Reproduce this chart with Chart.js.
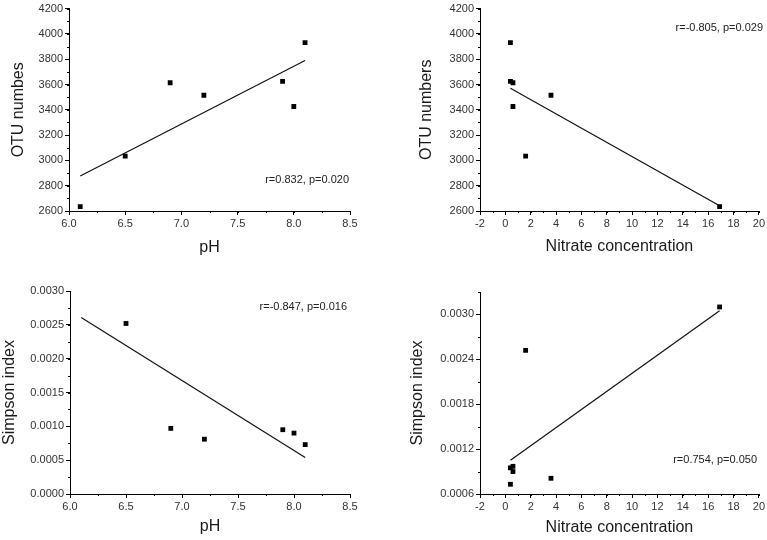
<!DOCTYPE html>
<html lang="en">
<head>
  <meta charset="UTF-8" />
  <title>OTU numbers and Simpson index vs pH and nitrate</title>
  <script src="https://cdn.jsdelivr.net/npm/chart.js"></script>
  <style>
    body { margin: 0; background: #fff; width: 767px; height: 540px; position: relative; overflow: hidden; }
    canvas { position: absolute; }
  </style>
</head>
<body>
  <canvas id="c1" width="384" height="270" style="left:0;top:0"></canvas>
  <canvas id="c2" width="383" height="270" style="left:384px;top:0"></canvas>
  <canvas id="c3" width="384" height="270" style="left:0;top:270px"></canvas>
  <canvas id="c4" width="383" height="270" style="left:384px;top:270px"></canvas>

  <script>
    // samples (same order in every array)
    const phValues = [6.1, 6.5, 6.9, 7.2, 7.9, 8.0, 8.1];
    const nitrateValues = [16.9, 1.6, 0.6, 3.6, 0.4, 0.6, 0.4];
    const otuNumbers = [2635, 3034, 3614, 3515, 3625, 3426, 3931];
    const simpsonIndex = [0.00310, 0.00252, 0.00097, 0.00081, 0.00095, 0.00090, 0.00073];

    // regression line end points
    const fitOtuPhX = [6.1, 8.1], fitOtuPhY = [2877, 3790];
    const fitOtuNitX = [0.4, 16.9], fitOtuNitY = [3571, 2642];
    const fitSimPhX = [6.1, 8.1], fitSimPhY = [0.00261, 0.00054];
    const fitSimNitX = [0.4, 16.9], fitSimNitY = [0.00105, 0.00305];

    const FONT = '"Liberation Sans", Arial, sans-serif';

    // short minor ticks between the major ones
    const minorTicks = {
      id: 'minorTicks',
      afterDraw(chart, args, opts) {
        const ctx = chart.ctx;
        ctx.save();
        ctx.strokeStyle = '#000';
        ctx.lineWidth = 1;
        ['x', 'y'].forEach(id => {
          const s = chart.scales[id], step = opts[id];
          if (!step) return;
          const n = Math.round((s.max - s.min) / step);
          for (let i = 0; i <= n; i++) {
            const p = Math.round(s.getPixelForValue(s.min + i * step)) + 0.5;
            ctx.beginPath();
            if (id === 'x') { ctx.moveTo(p, s.top); ctx.lineTo(p, s.top + 2); }
            else { ctx.moveTo(s.right, p); ctx.lineTo(s.right - 2, p); }
            ctx.stroke();
          }
        });
        ctx.restore();
      }
    };

    const note = {
      id: 'note',
      afterDraw(chart, args, opts) {
        if (!opts.text) return;
        const ctx = chart.ctx;
        ctx.save();
        ctx.font = '11px ' + FONT;
        ctx.fillStyle = '#222';
        ctx.textAlign = 'right';
        ctx.textBaseline = 'middle';
        ctx.fillText(opts.text, opts.x, opts.y);
        ctx.restore();
      }
    };

    Chart.register(minorTicks, note);

    function pts(xs, ys) {
      return xs.map((x, i) => ({ x: x, y: ys[i] }));
    }

    function axis(o) {
      return {
        type: 'linear',
        min: o.min,
        max: o.max,
        border: { display: true, color: '#000', width: 1 },
        grid: { drawOnChartArea: false, drawTicks: true, tickLength: 4, color: '#000' },
        ticks: {
          stepSize: o.step,
          includeBounds: false,
          padding: o.pad,
          color: '#333',
          font: { family: FONT, size: 11 },
          maxRotation: 0,
          autoSkip: false,
          callback: v => v.toFixed(o.dec)
        },
        title: {
          display: true,
          text: o.title,
          color: '#1a1a1a',
          font: { family: FONT, size: 16 },
          padding: o.titlePad
        },
        afterFit: s => {
          if (o.width) s.width = o.width;
          if (o.height) s.height = o.height;
        }
      };
    }

    function panel(id, g) {
      new Chart(document.getElementById(id), {
        type: 'scatter',
        data: {
          datasets: [
            {
              data: g.points,
              pointStyle: 'rect',
              pointRadius: 3.4,
              backgroundColor: '#000',
              borderWidth: 0,
              clip: 0
            },
            {
              data: g.fit,
              showLine: true,
              pointRadius: 0,
              borderColor: '#111',
              borderWidth: 1.2
            }
          ]
        },
        options: {
          responsive: false,
          animation: false,
          events: [],
          layout: { padding: g.padding },
          plugins: {
            legend: { display: false },
            tooltip: { enabled: false },
            minorTicks: g.minor,
            note: g.note
          },
          scales: { x: g.x, y: g.y }
        }
      });
    }

    panel('c1', {
      points: pts(phValues, otuNumbers),
      fit: pts(fitOtuPhX, fitOtuPhY),
      padding: { top: 7, right: 34, left: 0, bottom: 0 },
      minor: { x: 0.25, y: 100 },
      note: { text: 'r=0.832, p=0.020', x: 349, y: 180 },
      x: axis({ min: 6, max: 8.5, step: 0.5, dec: 1, pad: 2, title: 'pH', height: 59, titlePad: { top: 0, bottom: 13 } }),
      y: axis({ min: 2600, max: 4200, step: 200, dec: 0, pad: 2, title: 'OTU numbes', width: 69, titlePad: { top: 9, bottom: 0 } })
    });

    panel('c2', {
      points: pts(nitrateValues, otuNumbers),
      fit: pts(fitOtuNitX, fitOtuNitY),
      padding: { top: 7, right: 8, left: 0, bottom: 0 },
      minor: { x: 1, y: 100 },
      note: { text: 'r=-0.805, p=0.029', x: 379, y: 28 },
      x: axis({ min: -2, max: 20, step: 2, dec: 0, pad: 2, title: 'Nitrate concentration', height: 59, titlePad: { top: 0, bottom: 14 } }),
      y: axis({ min: 2600, max: 4200, step: 200, dec: 0, pad: 2, title: 'OTU numbers', width: 96, titlePad: { top: 33, bottom: 0 } })
    });

    panel('c3', {
      points: pts(phValues, simpsonIndex),
      fit: pts(fitSimPhX, fitSimPhY),
      padding: { top: 21, right: 34, left: 0, bottom: 0 },
      minor: { x: 0.25, y: 0.00025 },
      note: { text: 'r=-0.847, p=0.016', x: 347, y: 37 },
      x: axis({ min: 6, max: 8.5, step: 0.5, dec: 1, pad: 2, title: 'pH', height: 46, titlePad: { top: 0, bottom: 4 } }),
      y: axis({ min: 0, max: 0.003, step: 0.0005, dec: 4, pad: 2, title: 'Simpson index', width: 70, titlePad: { top: 0, bottom: 0 } })
    });

    panel('c4', {
      points: pts(nitrateValues, simpsonIndex),
      fit: pts(fitSimNitX, fitSimNitY),
      padding: { top: 22, right: 8, left: 0, bottom: 0 },
      minor: { x: 1, y: 0.0003 },
      note: { text: 'r=0.754, p=0.050', x: 373, y: 190 },
      x: axis({ min: -2, max: 20, step: 2, dec: 0, pad: 2, title: 'Nitrate concentration', height: 46, titlePad: { top: 0, bottom: 3 } }),
      y: axis({ min: 0.0006, max: 0.0033, step: 0.0006, dec: 4, pad: 2, title: 'Simpson index', width: 96, titlePad: { top: 24, bottom: 0 } })
    });
  </script>
</body>
</html>
